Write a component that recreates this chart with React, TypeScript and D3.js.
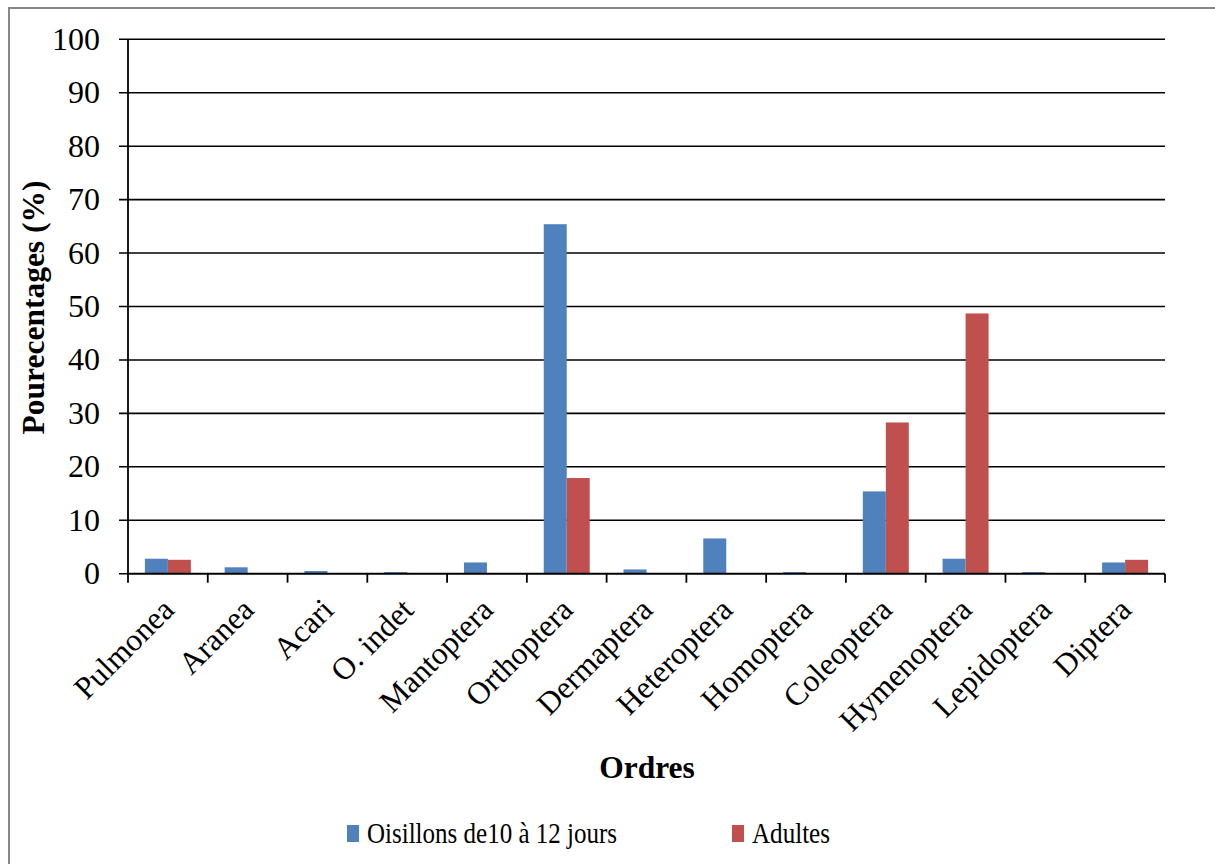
import React from "react";
import * as d3 from "d3";

// Prey orders found in the diet
const categories = [
  "Pulmonea", "Aranea", "Acari", "O. indet", "Mantoptera", "Orthoptera",
  "Dermaptera", "Heteroptera", "Homoptera", "Coleoptera", "Hymenoptera",
  "Lepidoptera", "Diptera",
];
const seriesNames = ["Oisillons de10 à 12 jours", "Adultes"];
const oisillons = [2.8, 1.2, 0.5, 0.3, 2.1, 65.4, 0.8, 6.6, 0.3, 15.4, 2.8, 0.3, 2.1];
const adultes = [2.6, 0, 0, 0, 0, 17.9, 0, 0, 0, 28.3, 48.7, 0, 2.6];
const yTicks = [0, 10, 20, 30, 40, 50, 60, 70, 80, 90, 100];
const colors = ["#4F81BD", "#C0504D"];

const W = 1215;
const H = 864;
const M = { left: 128, right: 1165, top: 39.3, bottom: 573.7 };
const FONT = "Liberation Serif, Times New Roman, Times, serif";

export default function App() {
  const x = d3.scaleBand<string>().domain(categories).range([M.left, M.right]).padding(0);
  const y = d3.scaleLinear().domain([0, 100]).range([M.bottom, M.top]);
  const barW = 23;
  const inner = d3
    .scaleBand<number>()
    .domain([0, 1])
    .range([-barW, barW])
    .padding(0);
  const series = [oisillons, adultes];
  const bw = x.bandwidth();
  const boundaries = d3.range(categories.length + 1).map((i) => M.left + i * bw);
  const txt = { fontFamily: FONT, fill: "#000" } as React.CSSProperties;

  return (
    <svg
      width={W}
      height={H}
      style={{ position: "absolute", left: 0, top: 0, background: "#fff", fontFamily: FONT }}
    >
      <rect x={9} y={8} width={W + 10} height={H + 10} fill="#fff" stroke="#888" strokeWidth={2} />

      {/* horizontal gridlines */}
      {yTicks.map((t) => (
        <line key={"g" + t} x1={M.left - 9} x2={M.right} y1={y(t)} y2={y(t)} stroke="#000" strokeWidth={1.6} />
      ))}

      {/* bars */}
      {series.map((vals, si) =>
        vals.map((v, i) =>
          v > 0 ? (
            <rect
              key={`b${si}-${i}`}
              x={(x(categories[i]) as number) + bw / 2 + (inner(si) as number)}
              y={y(v)}
              width={inner.bandwidth()}
              height={y(0) - y(v)}
              fill={colors[si]}
            />
          ) : null
        )
      )}

      {/* axes */}
      <line x1={M.left} x2={M.left} y1={M.top} y2={M.bottom} stroke="#000" strokeWidth={1.8} />
      <line x1={M.left} x2={M.right} y1={M.bottom} y2={M.bottom} stroke="#000" strokeWidth={1.8} />
      {boundaries.map((bx, i) => (
        <line key={"t" + i} x1={bx} x2={bx} y1={M.bottom} y2={M.bottom + 9} stroke="#000" strokeWidth={1.8} />
      ))}

      {/* y tick labels */}
      {yTicks.map((t) => (
        <text key={"yl" + t} x={100} y={y(t) + 10.5} style={{ ...txt, fontSize: 32 }} textAnchor="end">
          {t}
        </text>
      ))}

      {/* x category labels */}
      {categories.map((c) => {
        const cx = (x(c) as number) + bw / 2;
        return (
          <text
            key={"xl" + c}
            transform={`translate(${cx + 8},${M.bottom + 38}) rotate(-45)`}
            style={{ ...txt, fontSize: 31.5 }}
            textAnchor="end"
          >
            {c}
          </text>
        );
      })}

      {/* axis titles */}
      <text
        transform={`translate(44,${(M.top + M.bottom) / 2 + 1}) rotate(-90)`}
        style={{ ...txt, fontSize: 31.5, fontWeight: "bold" }}
        textAnchor="middle"
      >
        Pourecentages (%)
      </text>
      <text x={647} y={778} style={{ ...txt, fontSize: 31.5, fontWeight: "bold" }} textAnchor="middle">
        Ordres
      </text>

      {/* legend */}
      <rect x={347} y={825} width={12} height={17} fill={colors[0]} />
      <text x={367} y={843} style={{ ...txt, fontSize: 30 }} textLength={250} lengthAdjust="spacingAndGlyphs">
        {seriesNames[0]}
      </text>
      <rect x={732} y={825} width={12} height={17} fill={colors[1]} />
      <text x={752} y={843} style={{ ...txt, fontSize: 30 }} textLength={78} lengthAdjust="spacingAndGlyphs">
        {seriesNames[1]}
      </text>
    </svg>
  );
}
